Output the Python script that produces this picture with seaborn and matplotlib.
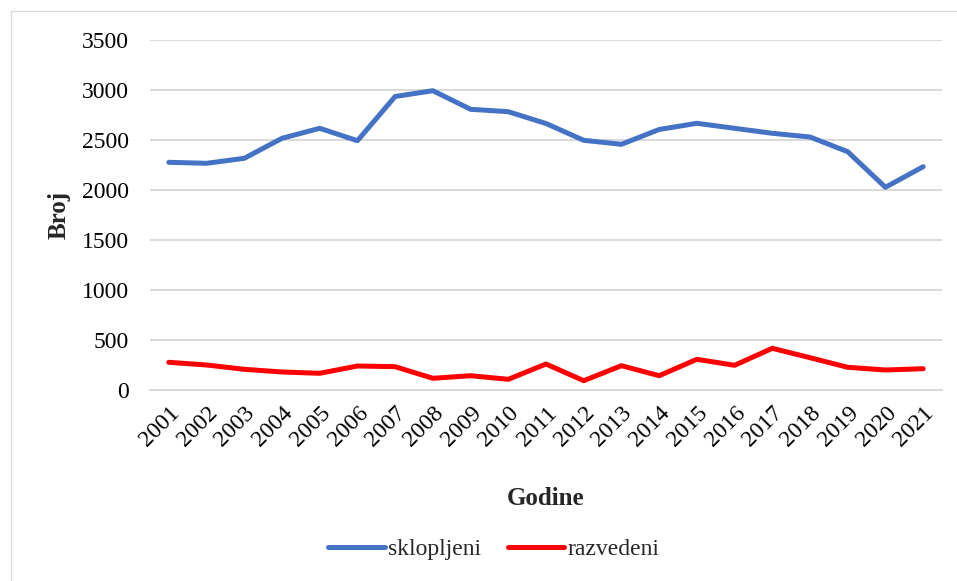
import matplotlib
matplotlib.use("Agg")
import matplotlib.pyplot as plt
import seaborn as sns
import pandas as pd
from matplotlib.lines import Line2D

years = [str(y) for y in range(2001, 2022)]
sklopljeni = [2277, 2267, 2317, 2517, 2617, 2493, 2935, 2993, 2807, 2783, 2665,
              2497, 2457, 2605, 2667, 2617, 2567, 2530, 2383, 2027, 2233]
razvedeni = [277, 250, 207, 180, 167, 240, 233, 117, 143, 107, 260,
             93, 243, 143, 307, 247, 417, 323, 227, 200, 213]
series_names = ["sklopljeni", "razvedeni"]
colors = ["#4472C4", "#FF0000"]

df = pd.DataFrame({
    "Godine": years * 2,
    "Broj": sklopljeni + razvedeni,
    "serija": [series_names[0]] * len(years) + [series_names[1]] * len(years),
})

sns.set_theme(style="white")
plt.rcParams["font.family"] = ["Liberation Serif", "DejaVu Serif"]

fig = plt.figure(figsize=(9.57, 5.81), dpi=100)
# outer chart border (left and top edges visible)
fig.add_artist(Line2D([10.5 / 957, 10.5 / 957], [0, 1 - 10.5 / 581],
                      transform=fig.transFigure, color="#D9D9D9", linewidth=1))
fig.add_artist(Line2D([10.5 / 957, 1], [1 - 10.5 / 581, 1 - 10.5 / 581],
                      transform=fig.transFigure, color="#D9D9D9", linewidth=1))

ax = fig.add_axes([150 / 957, 1 - 390 / 581, (942 - 150) / 957, 350 / 581])

sns.lineplot(data=df, x="Godine", y="Broj", hue="serija", palette=colors,
             linewidth=3.6, ax=ax, sort=False)

ax.set_ylim(0, 3500)
ax.set_xlim(-0.5, len(years) - 0.5)
ax.set_yticks(range(0, 3501, 500))
ax.yaxis.grid(True, color="#D9D9D9", linewidth=1.4)
ax.xaxis.grid(False)
ax.set_axisbelow(True)
for s in ax.spines.values():
    s.set_visible(False)
ax.spines["bottom"].set_visible(True)
ax.spines["bottom"].set_color("#D9D9D9")
ax.spines["bottom"].set_linewidth(1.4)
ax.tick_params(axis="y", labelsize=17, colors="black", pad=15, length=0)
ax.tick_params(axis="x", labelsize=17, colors="black", length=0, pad=9)
for lbl in ax.get_xticklabels():
    lbl.set_rotation(45)
    lbl.set_ha("right")
    lbl.set_rotation_mode("anchor")

ax.set_xlabel("Godine", fontsize=18, fontweight="bold", labelpad=26)
ax.set_ylabel("Broj", fontsize=18, fontweight="bold", labelpad=8)

handles, labels = ax.get_legend_handles_labels()
ax.legend(handles, labels, loc="center", bbox_to_anchor=(494 / 957, 1 - 549 / 581),
          bbox_transform=fig.transFigure, ncol=2, frameon=False, fontsize=17,
          handlelength=2.4, handletextpad=0.15, columnspacing=1.1)

fig.savefig("out.png", dpi=100)
